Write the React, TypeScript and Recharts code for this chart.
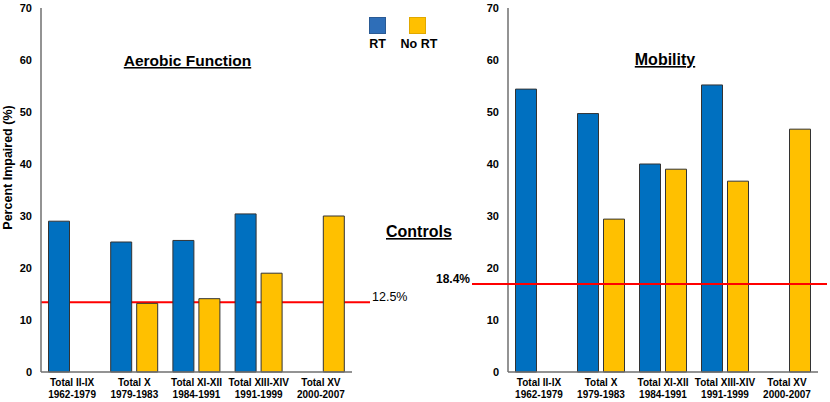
import React from 'react';
import { BarChart, Bar, XAxis, YAxis, ReferenceLine } from 'recharts';

const categories = ['Total II-IX', 'Total X', 'Total XI-XII', 'Total XIII-XIV', 'Total XV'];
const eras = ['1962-1979', '1979-1983', '1984-1991', '1991-1999', '2000-2007'];
const aerobicRT: (number | null)[] = [29.0, 25.0, 25.3, 30.4, null];
const aerobicNoRT: (number | null)[] = [null, 13.2, 14.1, 19.0, 30.0];
const mobilityRT: (number | null)[] = [54.4, 49.7, 40.0, 55.2, null];
const mobilityNoRT: (number | null)[] = [null, 29.4, 39.0, 36.7, 46.7];
const controlLines = [13.4, 16.9];
const controlLabels = ['12.5%', '18.4%'];
const yTicks = [0, 10, 20, 30, 40, 50, 60, 70];

const BLUE = '#0070C0';
const YELLOW = '#FFC000';
const FONT = '"Liberation Sans", Arial, sans-serif';

const build = (rt: (number | null)[], nort: (number | null)[]) =>
  categories.map((c, i) => ({ cat: c, era: eras[i], rt: rt[i], nort: nort[i] }));

const aerobicData = build(aerobicRT, aerobicNoRT);
const mobilityData = build(mobilityRT, mobilityNoRT);

const XTick = (props: any) => {
  const { x, y, payload, index } = props;
  return (
    <g>
      <text x={x} y={y + 14} textAnchor="middle" fontSize={10} fontWeight="bold" fill="#000" fontFamily={FONT}>
        {payload.value}
      </text>
      <text x={x} y={y + 26} textAnchor="middle" fontSize={10} fontWeight="bold" fill="#000" fontFamily={FONT}>
        {eras[index]}
      </text>
    </g>
  );
};

const makeLineShape = (extL: number, extR: number) => (props: any) => {
  const { x1, x2, y1, y2 } = props;
  return <line x1={x1 - extL} x2={x2 + extR} y1={y1} y2={y2} stroke="#FF0000" strokeWidth={2} />;
};

function Layer({ data, width, yAxisWidth, rightMargin, showAxes, showBars, showLine, line, extL, extR }: any) {
  return (
    <BarChart
      width={width}
      height={402}
      data={data}
      margin={{ top: 8, right: rightMargin, bottom: 0, left: 0 }}
      barCategoryGap={7.5}
      barGap={5}
    >
      <YAxis
        width={yAxisWidth}
        domain={[0, 70]}
        ticks={yTicks}
        interval={0}
        tickLine={false}
        tickSize={0}
        tickMargin={9}
        axisLine={showAxes ? { stroke: '#6f6f6f', strokeWidth: 1.5 } : false}
        tick={showAxes ? { fontSize: 11, fontWeight: 'bold', fill: '#000', fontFamily: FONT } : false}
      />
      <XAxis
        dataKey="cat"
        height={30}
        interval={0}
        tickLine={false}
        tickSize={0}
        tickMargin={0}
        axisLine={showAxes ? { stroke: '#6f6f6f', strokeWidth: 1.5 } : false}
        tick={showAxes ? <XTick /> : false}
      />
      <Bar
        dataKey="rt"
        fill={BLUE}
        stroke="#333"
        strokeWidth={1}
        fillOpacity={showBars ? 1 : 0}
        strokeOpacity={showBars ? 1 : 0}
        isAnimationActive={false}
      />
      <Bar
        dataKey="nort"
        fill={YELLOW}
        stroke="#333"
        strokeWidth={1}
        fillOpacity={showBars ? 1 : 0}
        strokeOpacity={showBars ? 1 : 0}
        isAnimationActive={false}
      />
      {showLine && <ReferenceLine y={line} ifOverflow="visible" shape={makeLineShape(extL, extR)} />}
    </BarChart>
  );
}

function Panel({ lineFront, ...rest }: any) {
  return (
    <div style={{ position: 'relative', width: rest.width, height: 402 }}>
      <div style={{ position: 'absolute', left: 0, top: 0 }}>
        <Layer {...rest} showAxes={lineFront} showBars={lineFront} showLine={!lineFront} />
      </div>
      <div style={{ position: 'absolute', left: 0, top: 0 }}>
        <Layer {...rest} showAxes={!lineFront} showBars={!lineFront} showLine={lineFront} />
      </div>
    </div>
  );
}

export default function App() {
  return (
    <div style={{ position: 'absolute', left: 0, top: 0, width: 830, height: 402, background: '#fff', overflow: 'hidden' }}>
      <div style={{ position: 'absolute', left: 0, top: 0 }}>
        <Panel data={aerobicData} width={420} yAxisWidth={41} rightMargin={68} line={controlLines[0]} extL={0} extR={18} lineFront={false} />
      </div>
      <div style={{ position: 'absolute', left: 420, top: 0 }}>
        <Panel data={mobilityData} width={410} yAxisWidth={88} rightMargin={12} line={controlLines[1]} extL={36} extR={9} lineFront={true} />
      </div>
      <svg width={830} height={402} style={{ position: 'absolute', left: 0, top: 0, pointerEvents: 'none' }} fontFamily={FONT}>
        <text x={187.5} y={66} textAnchor="middle" fontSize={15.5} fontWeight="bold" style={{ textDecoration: 'underline' }}>Aerobic Function</text>
        <text x={665} y={65} textAnchor="middle" fontSize={16} fontWeight="bold" style={{ textDecoration: 'underline' }}>Mobility</text>
        <text x={386} y={237} fontSize={16} fontWeight="bold" style={{ textDecoration: 'underline' }}>Controls</text>
        <text x={372} y={301} fontSize={12.5}>{controlLabels[0]}</text>
        <text x={436} y={283} fontSize={12} fontWeight="bold">{controlLabels[1]}</text>
        <text x={12} y={167.5} transform="rotate(-90 12 167.5)" textAnchor="middle" fontSize={12.5} fontWeight="bold">Percent Impaired (%)</text>
        <rect x={369.5} y={17.5} width={16} height={16} fill="#2E6EB8" stroke="#2a5a94" strokeWidth={1} />
        <rect x={409.5} y={17.5} width={16} height={16} fill={YELLOW} stroke="#e0a800" strokeWidth={1} />
        <text x={377.5} y={48} textAnchor="middle" fontSize={12.5} fontWeight="bold">RT</text>
        <text x={419} y={48} textAnchor="middle" fontSize={12.5} fontWeight="bold">No RT</text>
      </svg>
    </div>
  );
}
